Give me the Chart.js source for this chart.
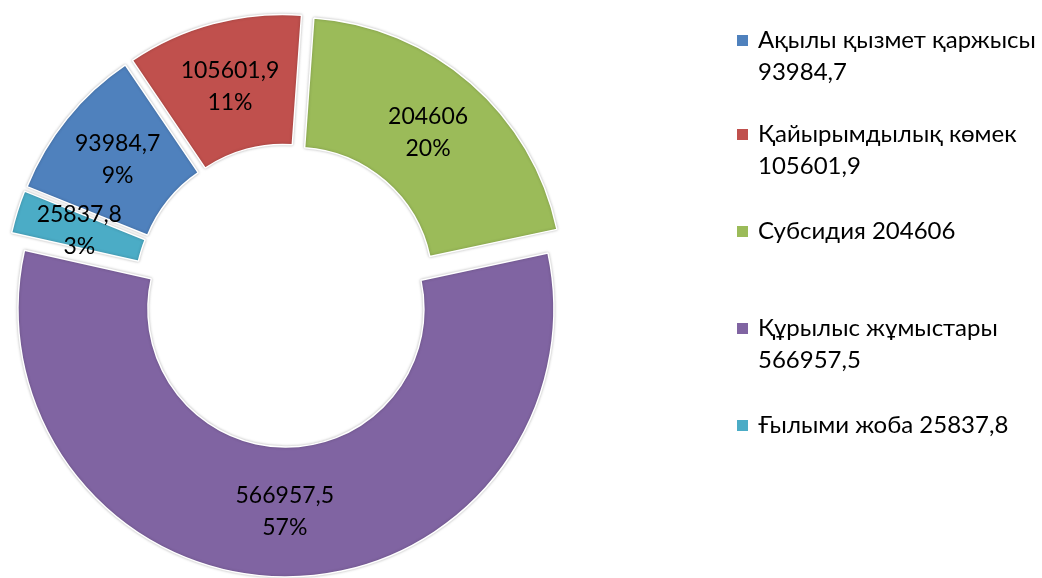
<!DOCTYPE html>
<html>
<head>
<meta charset="utf-8">
<script src="https://cdn.jsdelivr.net/npm/chart.js@4.4.0/dist/chart.umd.min.js"></script>
<style>
  html, body { margin: 0; padding: 0; background: #fff; overflow: hidden; width: 1042px; height: 578px; }
  #wrap { position: absolute; left: 0; top: 0; width: 572px; height: 591px; }
  #legend { position: absolute; left: 0; top: 0; width: 1042px; height: 578px; pointer-events: none;
            font-family: Lato, "Open Sans", sans-serif; font-size: 24px; color: #000; }
  .lg-box { position: absolute; width: 11px; height: 11px; }
  .lg-txt { position: absolute; line-height: 32px; white-space: nowrap; }
</style>
</head>
<body>
<div id="wrap"><canvas id="chart"></canvas></div>
<div id="legend"></div>
<script>
// данные диаграммы
const categories = ['Ақылы қызмет қаржысы', 'Қайырымдылық көмек', 'Субсидия', 'Құрылыс жұмыстары', 'Ғылыми жоба'];
const values = [93984.7, 105601.9, 204606, 566957.5, 25837.8];
const percents = ['9%', '11%', '20%', '57%', '3%'];
const colors = ['#4F81BD', '#C0504D', '#9BBB59', '#8064A2', '#4BACC6'];

// подписи легенды (как в оригинале, с переносом строк)
const legendLines = [
    ['Ақылы қызмет қаржысы', '93984,7'],
    ['Қайырымдылық көмек', '105601,9'],
    ['Субсидия 204606'],
    ['Құрылыс жұмыстары', '566957,5'],
    ['Ғылыми жоба 25837,8']
];
const legendTop = [23, 117, 214, 311, 408];

const EXPLODE = 13.5; // сдвиг всех секторов от центра, px

function fmt(v) {
    return String(v).replace('.', ',');
}

// сдвигаем каждый сектор вдоль его средней линии (без увеличения радиуса, как делает offset)
const arcDraw = Chart.ArcElement.prototype.draw;
Chart.ArcElement.prototype.draw = function (ctx) {
    const half = (this.startAngle + this.endAngle) / 2;
    ctx.save();
    ctx.translate(Math.cos(half) * EXPLODE, Math.sin(half) * EXPLODE);
    ctx.shadowColor = 'rgba(0,0,0,0.25)';
    ctx.shadowBlur = 3;
    arcDraw.call(this, ctx);
    ctx.restore();
};

// подписи данных: значение и процент внутри сектора
const labelPlugin = {
    id: 'sliceLabels',
    afterDatasetsDraw(chart) {
        const ctx = chart.ctx;
        const meta = chart.getDatasetMeta(0);
        ctx.save();
        ctx.font = '23px Lato, "Open Sans", sans-serif';
        ctx.fillStyle = '#000';
        ctx.textAlign = 'center';
        ctx.textBaseline = 'middle';
        meta.data.forEach((arc, i) => {
            const p = arc.getCenterPoint();
            const half = (arc.startAngle + arc.endAngle) / 2;
            const x = p.x + Math.cos(half) * EXPLODE;
            const y = p.y + Math.sin(half) * EXPLODE;
            ctx.fillText(fmt(values[i]), x, y - 16);
            ctx.fillText(percents[i], x, y + 16);
        });
        ctx.restore();
    }
};

new Chart(document.getElementById('chart'), {
    type: 'doughnut',
    data: {
        labels: categories,
        datasets: [{
            data: values,
            backgroundColor: colors,
            borderColor: '#ffffff',
            borderWidth: 1.5
        }]
    },
    options: {
        responsive: true,
        maintainAspectRatio: false,
        animation: false,
        rotation: -68,
        radius: 268,
        cutout: '51.5%',
        layout: { padding: 0 },
        plugins: {
            legend: { display: false },
            tooltip: { enabled: false }
        }
    },
    plugins: [labelPlugin]
});

// легенда справа
const legend = document.getElementById('legend');
categories.forEach((c, i) => {
    const box = document.createElement('div');
    box.className = 'lg-box';
    box.style.background = colors[i];
    box.style.left = '737px';
    box.style.top = (legendTop[i] + 12) + 'px';
    legend.appendChild(box);
    const txt = document.createElement('div');
    txt.className = 'lg-txt';
    txt.style.left = '758px';
    txt.style.top = legendTop[i] + 'px';
    txt.innerHTML = legendLines[i].join('<br>');
    legend.appendChild(txt);
});
</script>
</body>
</html>
